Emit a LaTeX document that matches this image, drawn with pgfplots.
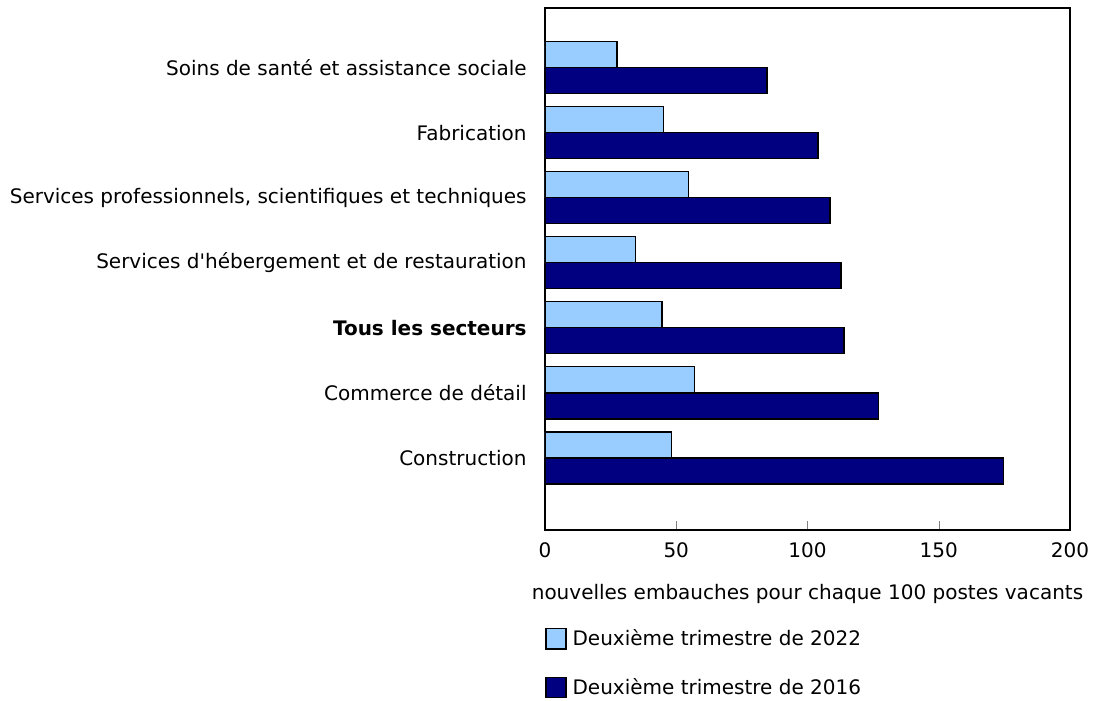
\documentclass[border=0pt]{standalone}
\usepackage{fontspec}
\setmainfont{DejaVu Sans}
\usepackage{pgfplots}
\pgfplotsset{compat=1.18}
\definecolor{lightbar}{HTML}{99CCFF}
\definecolor{darkbar}{HTML}{000080}
\begin{document}
\fontsize{10bp}{12bp}\selectfont
\begin{tikzpicture}
\useasboundingbox (-272.5bp,-85.5bp) rectangle (274bp,265bp);
\begin{axis}[
  at={(0,0)}, anchor=south west,
  scale only axis, width=262.5bp, height=261bp,
  xmin=0, xmax=200, ymin=-1.106, ymax=6.914,
  xtick={0,50,100,150,200},
  xtick pos=left,
  tick align=inside, major tick length=4.5bp,
  /pgf/number format/assume math mode=true,
  ticklabel style={font=\fontsize{10bp}{12bp}\selectfont},
  xticklabel style={anchor=center, yshift=-10bp, inner sep=0pt},
  ytick={0,...,6},
  yticklabels={Construction, Commerce de détail, \textbf{Tous les secteurs}, Services d\textquotesingle hébergement et de restauration, {Services professionnels, scientifiques et techniques}, Fabrication, Soins de santé et assistance sociale},
  ytick style={draw=none},
  yticklabel style={anchor=east, inner sep=0pt, xshift=-9bp},
  axis line style={black, line width=0.6bp},
  xlabel={nouvelles embauches pour chaque 100 postes vacants},
  xlabel style={at={(axis description cs:0.5,0)}, anchor=center, yshift=-32bp, inner sep=0pt, font=\fontsize{10bp}{12bp}\selectfont},
  legend image code/.code={\draw[#1, line width=0.6bp] (0bp,-5bp) rectangle (10bp,5bp);},
  legend style={at={(axis description cs:0,0)}, anchor=north west, yshift=-48bp, draw=none, fill=none, inner sep=0pt, row sep=12bp, font=\fontsize{10bp}{12bp}\selectfont, nodes={inner sep=1.5bp}, /tikz/every odd column/.append style={column sep=1.5bp}},
  legend cell align=left,
]
\addplot[xbar, bar width=0.4, bar shift=0.2, fill=lightbar, draw=black, line width=0.6bp]
  coordinates {(48.3,0) (56.9,1) (44.6,2) (34.5,3) (54.7,4) (45.1,5) (27.4,6)};
\addplot[xbar, bar width=0.4, bar shift=-0.2, fill=darkbar, draw=black, line width=0.6bp]
  coordinates {(174.6,0) (127.0,1) (113.9,2) (112.8,3) (108.6,4) (104.0,5) (84.6,6)};
\legend{Deuxième trimestre de 2022, Deuxième trimestre de 2016}
\end{axis}
\end{tikzpicture}
\end{document}
